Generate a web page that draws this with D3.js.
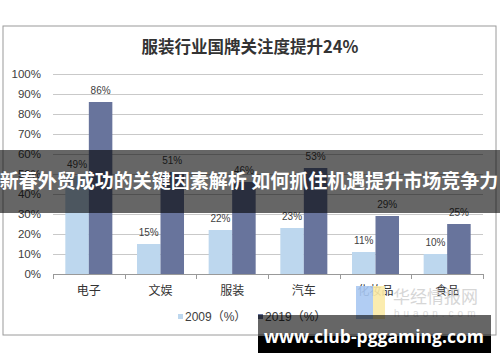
<!DOCTYPE html>
<html>
<head>
<meta charset="utf-8">
<script src="https://cdn.jsdelivr.net/npm/d3@7"></script>
<style>
  body { margin: 0; background: #fff; }
  svg { display: block; }
</style>
</head>
<body>
<script>
// données
const categories = ["电子", "文娱", "服装", "汽车", "化妆品", "食品"];
const values2009 = [49, 15, 22, 23, 11, 10];
const values2019 = [86, 51, 46, 53, 29, 25];
const seriesNames = ["2009（%）", "2019（%）"];
const yTicks = [0, 10, 20, 30, 40, 50, 60, 70, 80, 90, 100];

const W = 500, H = 362;
const colors = ["#bdd7ee", "#68749c"];
const font = "'Liberation Sans', Arial, 'Noto Sans CJK SC', sans-serif";

const svg = d3.select("body").append("svg")
    .attr("width", W)
    .attr("height", H);

// cadre du graphique
svg.append("rect")
    .attr("x", 3).attr("y", 26)
    .attr("width", 493).attr("height", 309)
    .attr("fill", "#fff")
    .attr("stroke", "#9a9a9a")
    .attr("stroke-width", 1);

svg.append("text")
    .attr("x", 250).attr("y", 53)
    .attr("text-anchor", "middle")
    .attr("font-family", "'Noto Sans CJK SC', sans-serif")
    .attr("font-weight", "bold")
    .attr("font-size", 16.5)
    .attr("fill", "#333")
    .text("服装行业国牌关注度提升24%");

let x0 = d3.scaleBand()
    .domain(categories)
    .range([53, 483])
    .paddingInner(0.344)
    .paddingOuter(0.172);

let x1 = d3.scaleBand()
    .domain([0, 1])
    .range([0, x0.bandwidth()]);

let y = d3.scaleLinear()
    .domain([0, 100])
    .range([274, 74]);

// grille
svg.append("g")
    .selectAll("line")
    .data(yTicks.filter(d => d > 0))
    .enter()
    .append("line")
    .attr("x1", 53).attr("x2", 483)
    .attr("y1", d => Math.round(y(d)) + 0.5)
    .attr("y2", d => Math.round(y(d)) + 0.5)
    .attr("stroke", "#c9c9c9");

// axe Y (étiquettes seulement)
let yAxis = svg.append("g")
    .attr("transform", "translate(53,0)")
    .call(d3.axisLeft(y).tickValues(yTicks).tickFormat(d => d + "%").tickSize(0).tickPadding(12));
yAxis.select(".domain").remove();
yAxis.selectAll("text")
    .attr("font-family", font)
    .attr("font-size", 11.5)
    .attr("fill", "#404040");

// barres
const groups = svg.append("g")
    .selectAll("g")
    .data(categories.map((c, i) => ({ cat: c, vals: [values2009[i], values2019[i]] })))
    .enter()
    .append("g")
    .attr("transform", d => "translate(" + x0(d.cat) + ",0)");

groups.selectAll("rect")
    .data(d => d.vals.map((v, k) => ({ k: k, v: v })))
    .enter()
    .append("rect")
    .attr("x", d => x1(d.k))
    .attr("y", d => y(d.v))
    .attr("width", x1.bandwidth())
    .attr("height", d => y(0) - y(d.v))
    .attr("fill", d => colors[d.k]);

groups.selectAll("text")
    .data(d => d.vals.map((v, k) => ({ k: k, v: v })))
    .enter()
    .append("text")
    .attr("x", d => x1(d.k) + x1.bandwidth() / 2)
    .attr("y", d => y(d.v) - 8)
    .attr("text-anchor", "middle")
    .attr("font-family", font)
    .attr("font-size", 10)
    .attr("fill", "#404040")
    .text(d => d.v + "%");

// axe X
let xAxis = svg.append("g")
    .attr("transform", "translate(0," + (y(0) + 0.5) + ")")
    .call(d3.axisBottom(x0).tickSize(0).tickPadding(12));
xAxis.select(".domain").attr("stroke", "#999").attr("d", "M53,0H483");
xAxis.selectAll("text")
    .attr("font-family", "'Noto Sans CJK SC', sans-serif")
    .attr("font-size", 12)
    .attr("fill", "#333");
svg.append("g")
    .selectAll("line")
    .data(d3.range(categories.length + 1))
    .enter()
    .append("line")
    .attr("x1", i => Math.round(53 + x0.step() * i) + 0.5)
    .attr("x2", i => Math.round(53 + x0.step() * i) + 0.5)
    .attr("y1", y(0)).attr("y2", y(0) + 5)
    .attr("stroke", "#999");

// légende
const legend = svg.append("g");
[178, 258].forEach((lx, k) => {
    legend.append("rect")
        .attr("x", lx).attr("y", 314)
        .attr("width", 5).attr("height", 5)
        .attr("fill", colors[k]);
    legend.append("text")
        .attr("x", lx + 7).attr("y", 321)
        .attr("font-family", font)
        .attr("font-size", 12)
        .attr("fill", "#404040")
        .text(seriesNames[k]);
});

// filigrane huaon
svg.append("rect").attr("x", 356).attr("y", 286).attr("width", 17).attr("height", 33).attr("fill", "#a9c8f2").attr("opacity", 0.9);
svg.append("rect").attr("x", 373).attr("y", 286).attr("width", 12).attr("height", 33).attr("fill", "#fbeaa6").attr("opacity", 0.9);
svg.append("text")
    .attr("x", 393).attr("y", 303)
    .attr("font-family", "'Noto Sans CJK SC', sans-serif")
    .attr("font-size", 17)
    .attr("fill", "#d0d0d0")
    .attr("opacity", 0.85)
    .text("华经情报网");
svg.append("text")
    .attr("x", 394).attr("y", 317)
    .attr("font-family", font)
    .attr("font-size", 10)
    .attr("letter-spacing", 4)
    .attr("fill", "#dcdcdc")
    .text("huaon.com");

// bandeau titre
svg.append("rect")
    .attr("x", 0).attr("y", 150)
    .attr("width", W).attr("height", 63)
    .attr("fill", "rgba(0,0,0,0.6)");
svg.append("text")
    .attr("x", 249).attr("y", 188)
    .attr("text-anchor", "middle")
    .attr("font-family", "'Noto Sans CJK SC', sans-serif")
    .attr("font-weight", "bold")
    .attr("font-size", 19)
    .attr("fill", "#fff")
    .text("新春外贸成功的关键因素解析 如何抓住机遇提升市场竞争力");

// bandeau url
svg.append("rect")
    .attr("x", 258).attr("y", 315)
    .attr("width", 233).attr("height", 38)
    .attr("fill", "rgba(0,0,0,0.6)");
svg.append("rect")
    .attr("x", 258).attr("y", 336)
    .attr("width", 233).attr("height", 17)
    .attr("fill", "#000");
svg.append("text")
    .attr("x", 374).attr("y", 343)
    .attr("text-anchor", "middle")
    .attr("font-family", "'Open Sans', 'DejaVu Sans', sans-serif")
    .attr("font-weight", "bold")
    .attr("font-size", 17.5)
    .attr("fill", "#fff")
    .text("www.club-pggaming.com");
</script>
</body>
</html>
